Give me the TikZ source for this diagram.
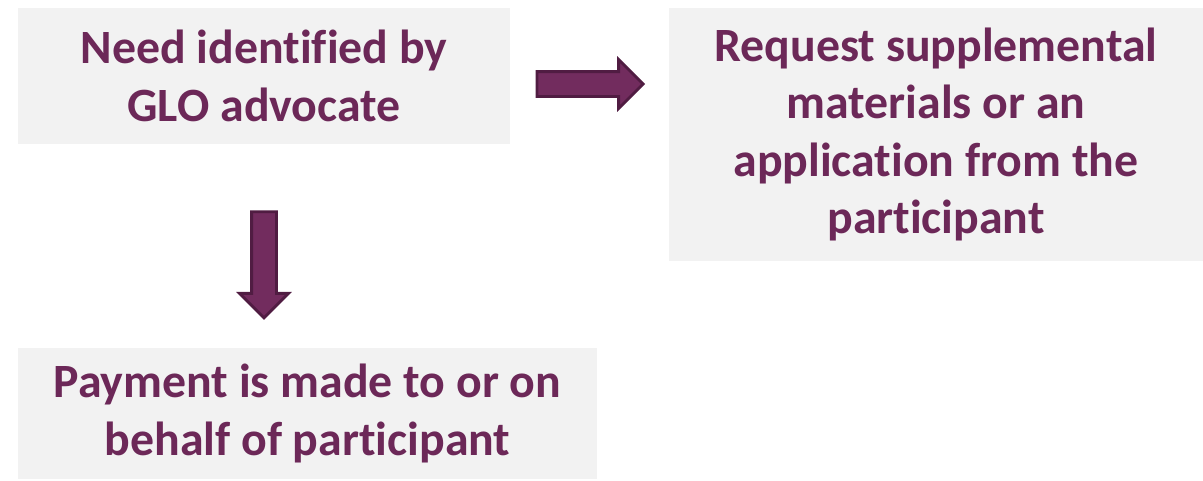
\documentclass[tikz,border=0pt]{standalone}
\usepackage{fontspec}
\setmainfont{Carlito}[Ligatures=CommonOff]
\usetikzlibrary{shapes.arrows,calc}
\definecolor{glotext}{RGB}{108,40,88}
\definecolor{arrowfill}{RGB}{114,44,94}
\definecolor{arrowline}{RGB}{80,28,66}
\definecolor{boxgray}{RGB}{242,242,242}
\newcommand{\pxu}{0.025cm}

\begin{document}
\begin{tikzpicture}[
    x=\pxu, y=-\pxu,
    box/.style={fill=boxgray, inner sep=0pt, align=center, text=glotext,
        font=\fontsize{34pt}{41pt}\selectfont\bfseries},
    blockarrow/.style={single arrow, draw=arrowline, fill=arrowfill, line width=2pt,
        inner sep=11*\pxu, minimum width=46*\pxu, minimum height=106*\pxu,
        single arrow head extend=12*\pxu, anchor=tail}
]
    \useasboundingbox (0,0) rectangle (1203,480);

    % Steps
    \node[box, minimum width=492*\pxu, minimum height=136*\pxu] (need) at (264,76) {Need identified by\\GLO advocate};
    \node[box, minimum width=534*\pxu, minimum height=253*\pxu] (request) at (936,134.5) {Request supplemental\\materials or an\\application from the\\participant};
    \node[box, minimum width=579*\pxu, minimum height=131*\pxu] (payment) at (307.5,413.5) {Payment is made to or on\\behalf of participant};

    % Arrows
    \path ($(need.east)+(0,8)$) -- ($(request.west |- need.east)+(0,8)$)
        node[pos=0.16, blockarrow] (toreq) {};
    \path (need.south) -- (need.south |- payment.north)
        node[pos=0.325, blockarrow, shape border rotate=270] (topay) {};
\end{tikzpicture}
\end{document}
